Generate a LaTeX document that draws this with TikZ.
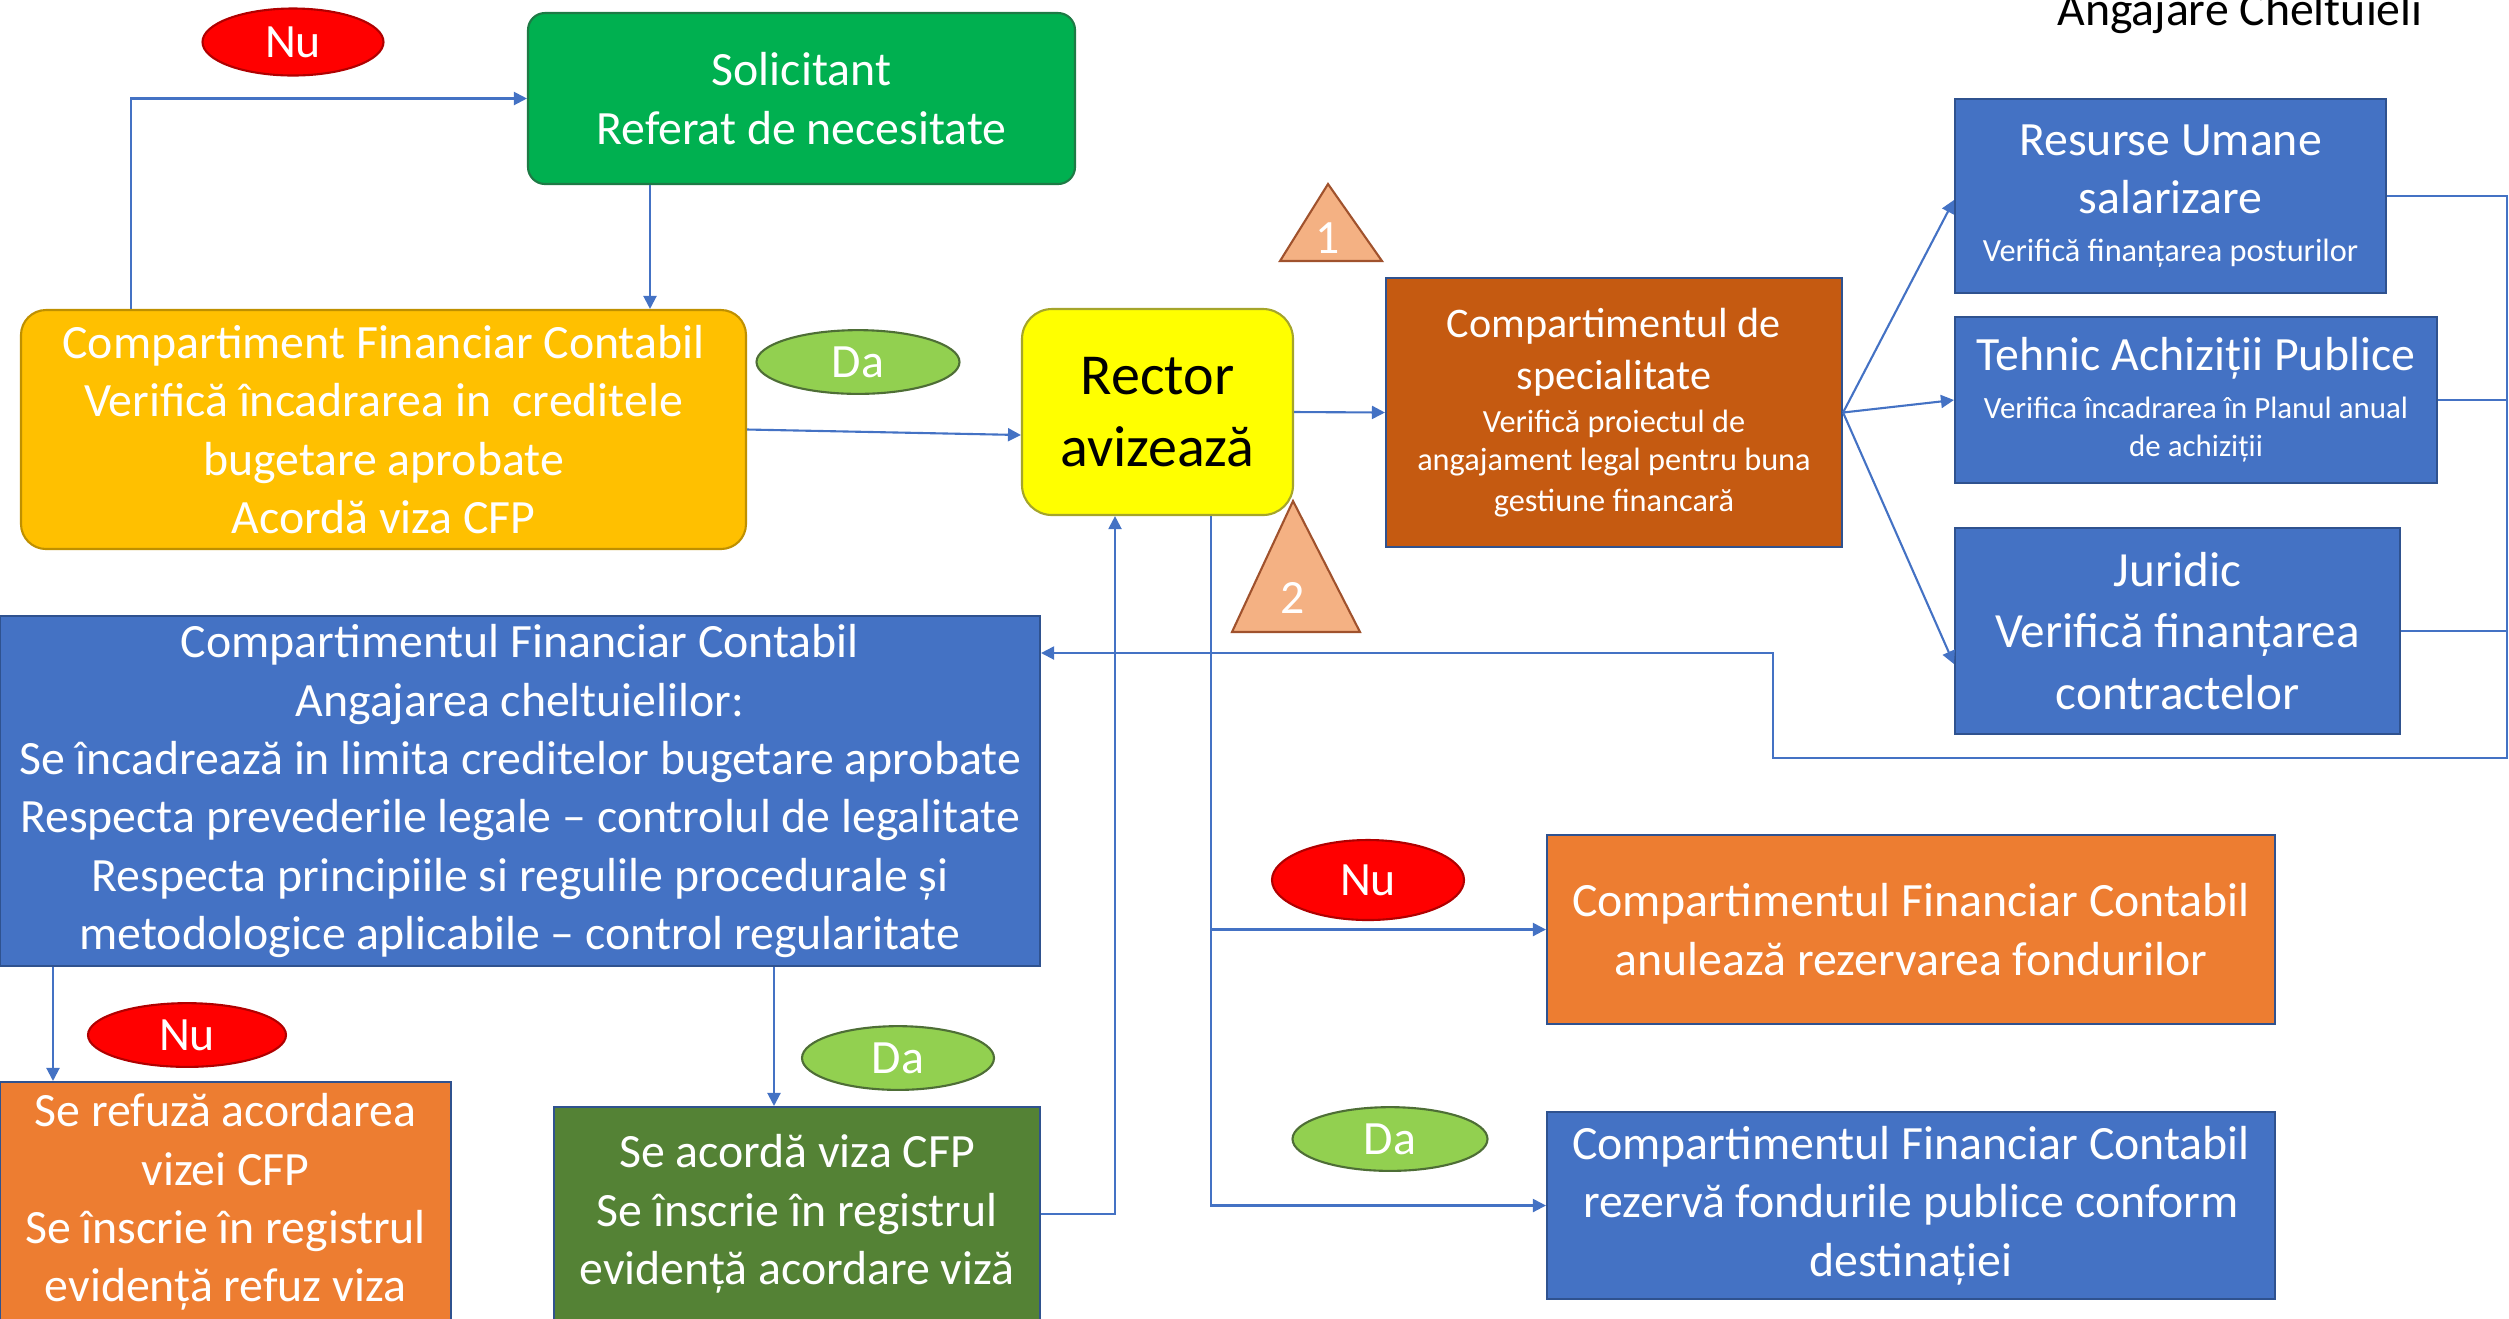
\documentclass[tikz,border=0pt]{standalone}
\usepackage{fontspec}
\setmainfont{Carlito}
\usetikzlibrary{arrows.meta,shapes.geometric}
\definecolor{solgreen}{HTML}{00B050}
\definecolor{solline}{HTML}{1E7A45}
\definecolor{cfcgold}{HTML}{FFC000}
\definecolor{cfcline}{HTML}{BF9000}
\definecolor{rectyellow}{HTML}{FFFF00}
\definecolor{rectline}{HTML}{A5A52A}
\definecolor{specbrown}{HTML}{C55A11}
\definecolor{boxblue}{HTML}{4472C4}
\definecolor{boxline}{HTML}{2F528F}
\definecolor{boxorange}{HTML}{ED7D31}
\definecolor{boxgreen}{HTML}{548235}
\definecolor{nured}{HTML}{FF0000}
\definecolor{nuline}{HTML}{B00000}
\definecolor{dagreen}{HTML}{92D050}
\definecolor{daline}{HTML}{4E6E36}
\definecolor{tripeach}{HTML}{F4B183}
\definecolor{triline}{HTML}{A0522D}
\newcommand{\smalltxt}[1]{{\fontsize{9.2}{11.2}\selectfont #1}}

\begin{document}
\begin{tikzpicture}[
  every node/.style={font=\fontsize{13.6}{16.6}\selectfont, text=white, align=center, inner sep=2pt},
  flow/.style={draw=boxblue, line width=0.6pt, -{Triangle[length=1.3mm,width=1.3mm]}},
  link/.style={draw=boxblue, line width=0.6pt},
  sqbox/.style={draw=boxline, line width=0.6pt},
  nu/.style={ellipse, draw=nuline, fill=nured, line width=0.6pt},
  da/.style={ellipse, draw=daline, fill=dagreen, line width=0.6pt},
  tri/.style={draw=triline, fill=tripeach, line width=0.6pt}
]
\useasboundingbox (0,0) rectangle (25.09,-13.18);

\node[text=black, anchor=base] (title) at (22.40,-0.25) {Angajare Cheltuieli};

\node[draw=solline, fill=solgreen, line width=0.6pt, rounded corners=0.17cm, minimum width=5.47cm, minimum height=1.71cm] (sol) at (8.015,-0.985) {Solicitant\\Referat de necesitate};
\node[draw=cfcline, fill=cfcgold, line width=0.6pt, rounded corners=0.25cm, minimum width=7.25cm, minimum height=2.39cm] (cfc) at (3.835,-4.295) {Compartiment Financiar Contabil\\Verifică încadrarea in \ creditele\\bugetare aprobate\\Acordă viza CFP};
\node[draw=rectline, fill=rectyellow, line width=0.6pt, rounded corners=0.3cm, minimum width=2.71cm, minimum height=2.06cm, text=black, font=\fontsize{16.5}{19.6}\selectfont] (rector) at (11.575,-4.12) {Rector\\[1pt]avizează};
\node[sqbox, fill=specbrown, minimum width=4.56cm, minimum height=2.69cm, font=\fontsize{12}{14.6}\selectfont] (spec) at (16.14,-4.125) {Compartimentul de\\specialitate\\[-2.1pt]\smalltxt{Verifică proiectul de}\\[-3.8pt]\smalltxt{angajament legal pentru buna}\\[-3.2pt]\smalltxt{gestiune financară}};
\node[sqbox, fill=boxblue, minimum width=4.31cm, minimum height=1.94cm] (ru) at (21.705,-1.96) {Resurse Umane\\salarizare\\[-2.9pt]\smalltxt{Verifică finanțarea posturilor}};
\node[sqbox, fill=boxblue, minimum width=4.82cm, minimum height=1.66cm] (teh) at (21.96,-4.0) {Tehnic Achiziții Publice\\[-2.9pt]{\fontsize{8.8}{10.8}\selectfont Verifica încadrarea în Planul anual}\\[-5.8pt]{\fontsize{8.8}{10.8}\selectfont de achiziții}};
\node[sqbox, fill=boxblue, minimum width=4.45cm, minimum height=2.06cm, font=\fontsize{14}{17.4}\selectfont] (jur) at (21.775,-6.31) {Juridic\\Verifică finanțarea\\contractelor};
\node[sqbox, fill=boxblue, minimum width=10.4cm, minimum height=3.5cm] (cfcang) at (5.2,-7.91) {Compartimentul Financiar Contabil\\Angajarea cheltuielilor:\\Se încadrează in limita creditelor bugetare aprobate\\Respecta prevederile legale – controlul de legalitate\\Respecta principiile si regulile procedurale și\\metodologice aplicabile – control regularitate};
\node[sqbox, fill=boxorange, minimum width=7.28cm, minimum height=1.89cm] (anul) at (19.11,-9.295) {Compartimentul Financiar Contabil\\anulează rezervarea fondurilor};
\node[sqbox, fill=boxblue, minimum width=7.28cm, minimum height=1.87cm] (rez) at (19.11,-12.055) {Compartimentul Financiar Contabil\\rezervă fondurile publice conform\\destinației};
\node[sqbox, fill=boxorange, minimum width=4.51cm, minimum height=2.40cm] (refuz) at (2.255,-12.02) {Se refuză acordarea\\vizei CFP\\Se înscrie în registrul\\evidență refuz viza};
\node[sqbox, fill=boxgreen, minimum width=4.86cm, minimum height=2.14cm] (acord) at (7.97,-12.14) {Se acordă viza CFP\\Se înscrie în registrul\\evidență acordare viză};

\node[nu, minimum width=1.81cm, minimum height=0.67cm] (nu1) at (2.93,-0.42) {Nu};
\node[da, minimum width=2.03cm, minimum height=0.61cm] (da1) at (8.58,-3.62) {Da};
\node[nu, minimum width=1.92cm, minimum height=0.80cm] (nu2) at (13.68,-8.80) {Nu};
\node[da, minimum width=1.95cm, minimum height=0.59cm] (da2) at (13.90,-11.39) {Da};
\node[nu, minimum width=1.98cm, minimum height=0.62cm] (nu3) at (1.87,-10.35) {Nu};
\node[da, minimum width=1.92cm, minimum height=0.51cm] (da3) at (8.98,-10.58) {Da};

\draw[tri] (13.28,-1.84) -- (13.82,-2.61) -- (12.80,-2.61) -- cycle;
\node (one) at (13.28,-2.38) {1};
\draw[tri] (12.93,-5.01) -- (13.60,-6.32) -- (12.32,-6.32) -- cycle;
\node (two) at (12.93,-5.98) {2};

\coordinate (nux) at (1.31,0);
\coordinate (solx) at (6.50,0);
\coordinate (busr) at (25.07,-7.58);
\coordinate (busl) at (17.73,-6.53);
\coordinate (refx) at (0.53,0);
\coordinate (accx) at (7.74,0);
\coordinate (upx) at (11.15,0);
\coordinate (dnx) at (12.11,0);

\draw[flow] (cfc.north -| nux) |- (sol.west);
\draw[flow] (sol.south -| solx) -- (cfc.north -| solx);
\draw[flow] (cfc.east) -- ([yshift=-0.23cm]rector.west);
\draw[flow] (rector.east) -- (spec.west);
\draw[flow] (spec.east) -- ([yshift=-0.04cm]ru.west);
\draw[flow] (spec.east) -- (teh.west);
\draw[flow] (spec.east) -- ([yshift=-0.33cm]jur.west);
\draw[flow] (ru.east) -| (busr) -| (busl) -- (busl -| cfcang.east);
\draw[link] (teh.east) -- (teh.east -| busr);
\draw[link] (jur.east) -- (jur.east -| busr);
\draw[flow] (cfcang.south -| refx) -- (refuz.north -| refx);
\draw[flow] (cfcang.south -| accx) -- (acord.north -| accx);
\draw[flow] (acord.east) -| (rector.south -| upx);
\draw[flow] (rector.south -| dnx) |- (anul.west);
\draw[flow] (rector.south -| dnx) |- (rez.west);
\end{tikzpicture}
\end{document}
